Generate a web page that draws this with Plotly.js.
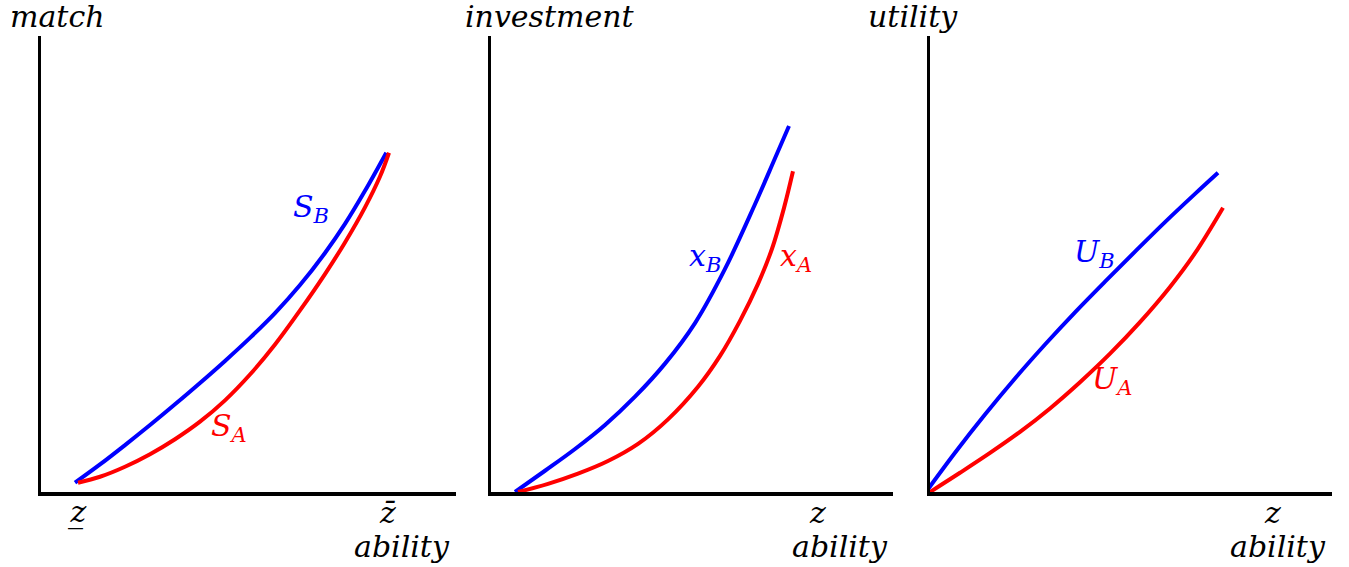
<!DOCTYPE html>
<html>
<head>
<meta charset="utf-8">
<script src="https://cdn.plot.ly/plotly-3.0.1.min.js"></script>
<style>html,body{margin:0;padding:0;background:#fff}#chart{width:1349px;height:567px}</style>
</head>
<body>
<div id="chart"></div>
<script>
// Panel 1: match vs ability (percent of axis range)
const matchX_B = [8.19, 14.22, 20.24, 26.27, 32.29, 38.31, 44.34, 50.36, 56.39, 62.41, 68.43, 73.25, 78.07, 83.2];
const matchY_B = [2.04, 6.04, 10.29, 14.68, 19.23, 23.91, 28.75, 33.80, 39.23, 45.38, 52.42, 58.79, 66.04, 74.4];
const matchX_A = [8.92, 14.22, 20.24, 26.27, 32.29, 38.31, 44.34, 50.36, 56.39, 62.41, 68.43, 73.25, 78.07, 81.69, 83.86];
const matchY_A = [2.04, 3.34, 5.54, 8.29, 11.58, 15.43, 20.10, 25.76, 32.35, 39.82, 47.79, 54.73, 62.42, 69.18, 74.4];
// Panel 2: investment vs ability
const invX_B = [5.97, 13.43, 20.90, 28.36, 35.82, 43.28, 50.75, 58.21, 65.67, 70.65, 74.13];
const invY_B = [0.0, 4.66, 9.43, 14.70, 20.90, 28.15, 37.05, 48.92, 63.10, 73.19, 80.26];
const invX_A = [6.72, 14.18, 21.64, 29.10, 36.57, 44.03, 51.49, 56.97, 61.94, 66.42, 69.90, 72.89, 75.12];
const invY_A = [0.0, 1.78, 4.02, 6.79, 10.55, 15.93, 23.08, 29.85, 37.54, 45.65, 53.34, 62.31, 70.33];
// Panel 3: utility vs ability
const utilX_B = [-1.0, 6.22, 13.68, 21.14, 28.61, 36.07, 43.53, 51.0, 58.46, 65.92, 71.64];
const utilY_B = [0.0, 8.60, 16.98, 24.89, 32.34, 39.40, 46.12, 52.71, 59.18, 65.37, 70.0];
const utilX_A = [0.0, 7.46, 14.93, 22.39, 29.85, 37.31, 44.78, 52.24, 59.70, 65.92, 72.89];
const utilY_A = [0.0, 4.22, 8.57, 13.19, 18.33, 24.07, 30.33, 37.25, 44.97, 52.38, 62.35];

// Ability marks on the horizontal axes
const ticks1 = [8.7, 83.4];
const tickText1 = ['z\u0332', 'z\u0304'];
const ticks2 = [81.1];
const ticks3 = [85.1];
const tickText23 = ['z'];

const yTitles = ['match', 'investment', 'utility'];
const xTitle = 'ability';
const curveLabels = [
  {text: 'S<sub>B</sub>', x: 65.1, y: 62.2, color: 'blue', ax: 'x', ay: 'y'},
  {text: 'S<sub>A</sub>', x: 45.3, y: 14.1, color: 'red', ax: 'x', ay: 'y'},
  {text: 'x<sub>B</sub>', x: 53.2, y: 51.4, color: 'blue', ax: 'x2', ay: 'y2'},
  {text: 'x<sub>A</sub>', x: 75.9, y: 51.4, color: 'red', ax: 'x2', ay: 'y2'},
  {text: 'U<sub>B</sub>', x: 40.8, y: 52.3, color: 'blue', ax: 'x3', ay: 'y3'},
  {text: 'U<sub>A</sub>', x: 45.3, y: 24.4, color: 'red', ax: 'x3', ay: 'y3'}
];

const FONT = 'DejaVu Serif';
const W = 1349, H = 567;
const lw = 4;
function line(x, y, color, xa, ya) {
  return {x: x, y: y, xaxis: xa, yaxis: ya, type: 'scatter', mode: 'lines',
    line: {color: color, width: lw, shape: 'spline', smoothing: 1}, hoverinfo: 'skip'};
}
const data = [
  line(matchX_B, matchY_B, '#0000ff', 'x', 'y'),
  line(matchX_A, matchY_A, '#ff0000', 'x', 'y'),
  line(invX_B, invY_B, '#0000ff', 'x2', 'y2'),
  line(invX_A, invY_A, '#ff0000', 'x2', 'y2'),
  line(utilX_B, utilY_B, '#0000ff', 'x3', 'y3'),
  line(utilX_A, utilY_A, '#ff0000', 'x3', 'y3')
];

const yDom = [(H - 492) / H, (H - 36) / H];
const xDoms = [[41 / W, 456 / W], [491 / W, 893 / W], [930 / W, 1332 / W]];
function xax(dom, anchor) {
  return {domain: dom, range: [0, 100], showgrid: false, zeroline: false,
    showline: true, linecolor: 'black', linewidth: 3.5, showticklabels: false,
    ticks: '', anchor: anchor, fixedrange: true};
}
function yax(anchor) {
  return {domain: yDom, range: [0, 100], showgrid: false, zeroline: false,
    showline: true, linecolor: 'black', linewidth: 3.5, showticklabels: false,
    ticks: '', anchor: anchor, fixedrange: true};
}

const annotations = [];
const titleX = [8, 463, 866];
yTitles.forEach((t, i) => {
  annotations.push({text: '<i>' + t + '</i>', xref: 'paper', yref: 'paper',
    x: titleX[i] / W, y: 1 - 17 / H, xanchor: 'left', yanchor: 'middle', showarrow: false,
    font: {family: FONT, size: 30, color: 'black'}});
});
const abilityRight = [452, 890, 1328];
abilityRight.forEach(r => {
  annotations.push({text: '<i>' + xTitle + '</i>', xref: 'paper', yref: 'paper',
    x: r / W, y: 1 - 546 / H, xanchor: 'right', yanchor: 'middle', showarrow: false,
    font: {family: FONT, size: 30, color: 'black'}});
});
function tickAnn(vals, texts, xref) {
  vals.forEach((v, i) => {
    annotations.push({text: '<i>' + texts[i] + '</i>', xref: xref, yref: 'paper',
      x: v, y: 1 - 512 / H, xanchor: 'center', yanchor: 'middle', showarrow: false,
      font: {family: FONT, size: 30, color: 'black'}});
  });
}
tickAnn(ticks1, tickText1, 'x');
tickAnn(ticks2, tickText23, 'x2');
tickAnn(ticks3, tickText23, 'x3');
curveLabels.forEach(c => {
  annotations.push({text: '<i>' + c.text + '</i>', xref: c.ax, yref: c.ay,
    x: c.x, y: c.y, xanchor: 'center', yanchor: 'middle', showarrow: false,
    font: {family: FONT, size: 30, color: c.color}});
});

const layout = {
  width: W, height: H, margin: {l: 0, r: 0, t: 0, b: 0},
  paper_bgcolor: 'white', plot_bgcolor: 'white', showlegend: false,
  xaxis: xax(xDoms[0], 'y'),
  yaxis: yax('x'),
  xaxis2: xax(xDoms[1], 'y2'),
  yaxis2: yax('x2'),
  xaxis3: xax(xDoms[2], 'y3'),
  yaxis3: yax('x3'),
  annotations: annotations
};
Plotly.newPlot('chart', data, layout, {displayModeBar: false, staticPlot: true});
</script>
</body>
</html>
